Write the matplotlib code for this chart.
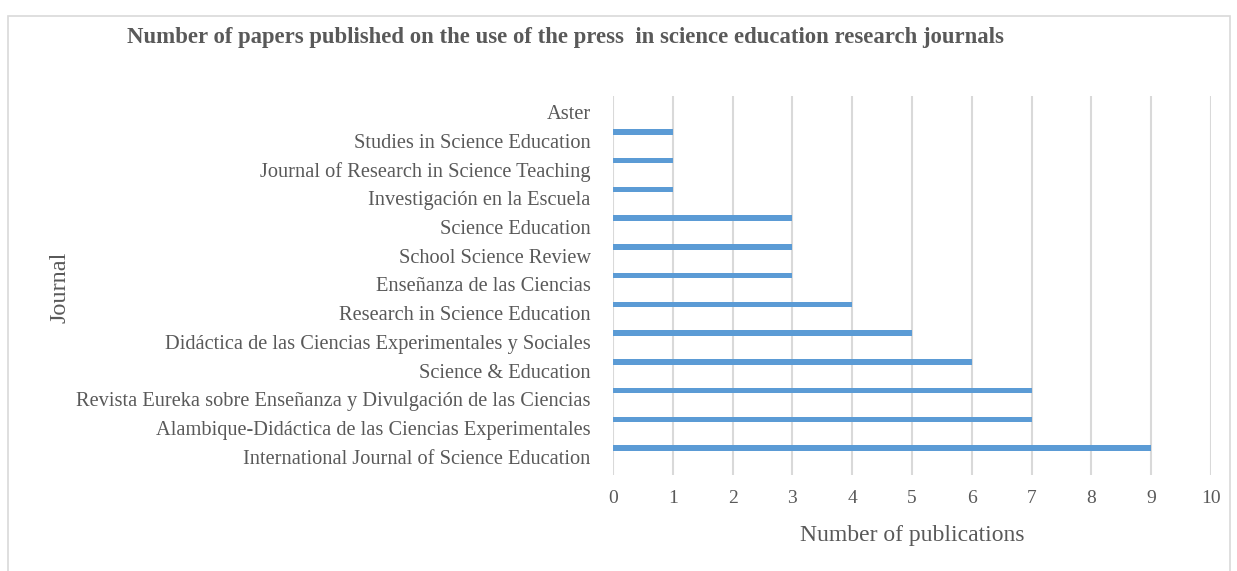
import matplotlib
matplotlib.use("Agg")
import matplotlib.pyplot as plt
from matplotlib.patches import Rectangle

journals = [
    "International Journal of Science Education",
    "Alambique-Didáctica de las Ciencias Experimentales",
    "Revista Eureka sobre Enseñanza y Divulgación de las Ciencias",
    "Science & Education",
    "Didáctica de las Ciencias Experimentales y Sociales",
    "Research in Science Education",
    "Enseñanza de las Ciencias",
    "School Science Review",
    "Science Education",
    "Investigación en la Escuela",
    "Journal of Research in Science Teaching",
    "Studies in Science Education",
    "Aster",
]
publications = [9, 7, 7, 6, 5, 4, 3, 3, 3, 1, 1, 1, 0]
xticks = list(range(0, 11))

plt.rcParams['font.family'] = ['Liberation Serif', 'DejaVu Serif']
txt = '#595959'

fig = plt.figure(figsize=(12.37, 5.71), dpi=100)
fig.patches.append(Rectangle((8/1237, -0.01), (1230-8)/1237, 1 - 16/571 + 0.01,
                             transform=fig.transFigure, fill=False,
                             edgecolor='#d9d9d9', linewidth=1.2))

ax = fig.add_axes([613/1237, 1-475/571, (1211-613)/1237, (475-96)/571])
ypos = list(range(len(journals)))
bar_y = [y + 0.31 for y in ypos]
ax.barh(bar_y, publications, height=0.19, color='#5B9BD5', zorder=3)

ax.set_xlim(0, 10)
ax.set_ylim(-0.626, 12.556)
ax.set_xticks(xticks)
ax.set_xticklabels([str(t) for t in xticks], fontsize=14, color=txt)
ax.set_yticks(ypos)
ax.set_yticklabels(journals, fontsize=14.7, color=txt)
ax.tick_params(axis='y', length=0, pad=16)
ax.tick_params(axis='x', length=0, pad=11)
ax.grid(axis='x', color='#d9d9d9', linewidth=1.5, zorder=0)
for s in ax.spines.values():
    s.set_visible(False)

ax.set_xlabel("Number of publications", fontsize=17, color=txt, labelpad=13)
fig.text(60/1237, 1-287/571, "Journal", rotation=90, fontsize=17.5, color=txt,
         ha='center', va='center')
fig.text(565/1237, 1-38/571,
         "Number of papers published on the use of the press  in science education research journals",
         fontsize=16.4, fontweight='bold', color=txt, ha='center', va='center')

fig.savefig("out.png", dpi=100, facecolor='white')
